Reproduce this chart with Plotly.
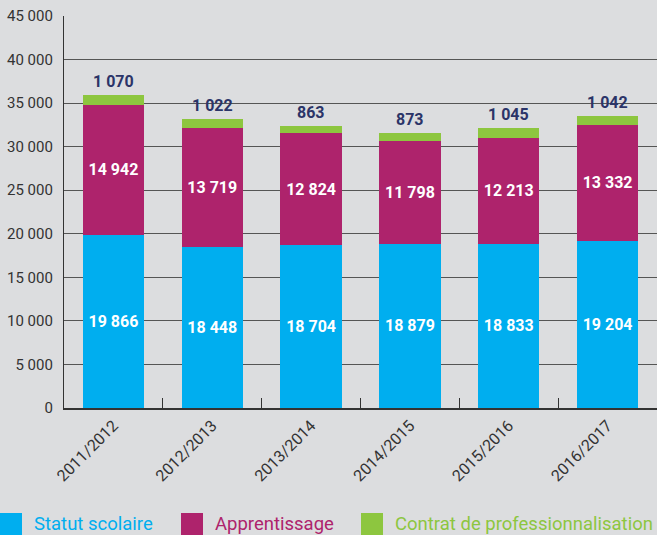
import plotly.graph_objects as go

years = ["2011/2012", "2012/2013", "2013/2014", "2014/2015", "2015/2016", "2016/2017"]
statut_scolaire = [19866, 18448, 18704, 18879, 18833, 19204]
apprentissage = [14942, 13719, 12824, 11798, 12213, 13332]
contrat_pro = [1070, 1022, 863, 873, 1045, 1042]
series_names = ["Statut scolaire", "Apprentissage", "Contrat de professionnalisation"]
colors = ["#00aeef", "#ae236c", "#8dc63f"]

W, H = 657, 535
L, R, T, B = 64, 0, 16, 127
pw, ph = W - L - R, H - T - B

fig = go.Figure()
for vals, name, col in zip([statut_scolaire, apprentissage], series_names[:2], colors[:2]):
    fig.add_trace(go.Bar(
        x=years, y=vals, name=name, marker=dict(color=col, line=dict(width=0)),
        texttemplate="%{y:,d}", textposition="inside", insidetextanchor="middle",
        textfont=dict(family="Roboto", size=16, color="white", weight="bold"),
        constraintext="none", showlegend=False,
    ))
fig.add_trace(go.Bar(
    x=years, y=contrat_pro, name=series_names[2], marker=dict(color=colors[2], line=dict(width=0)),
    showlegend=False,
))

totals = [a + b + c for a, b, c in zip(statut_scolaire, apprentissage, contrat_pro)]
annotations = []
for yr, tot, v in zip(years, totals, contrat_pro):
    annotations.append(dict(x=yr, y=tot, xref="x", yref="y", text=f"{v:,d}".replace(",", " "),
                            showarrow=False, yanchor="bottom", yshift=2,
                            font=dict(family="Roboto", size=16, color="#2b3468", weight="bold")))

# manual legend
legend_x = [0, 181, 361]
shapes = []
for lx, name, col in zip(legend_x, series_names, colors):
    shapes.append(dict(type="rect", xref="paper", yref="paper",
                       x0=(lx - L) / pw, x1=(lx + 22 - L) / pw,
                       y0=(H - B - 513) / ph, y1=(H - B - 536) / ph,
                       fillcolor=col, line=dict(width=0)))
    annotations.append(dict(xref="paper", yref="paper", x=(lx + 32 - L) / pw,
                            y=(H - B - 524) / ph, xanchor="left", yanchor="middle",
                            text=name, showarrow=False,
                            font=dict(family="Roboto", size=18.5, color=col)))

fig.update_layout(
    width=W, height=H, margin=dict(l=L, r=R, t=T, b=B),
    paper_bgcolor="#dcdddf", plot_bgcolor="#dcdddf",
    barmode="stack", bargap=0.38, separators=". ",
    font=dict(family="Roboto", color="#333333"),
    shapes=shapes, annotations=annotations, showlegend=False,
)
fig.update_yaxes(range=[0, 45000], dtick=5000, tickformat=",d",
                 showgrid=True, gridcolor="#555555", gridwidth=1.3,
                 showline=True, linecolor="#333333", linewidth=1.3,
                 ticks="", ticklabelstandoff=7,
                 tickfont=dict(family="Roboto", size=15, color="#333333"),
                 zeroline=False)
fig.update_xaxes(showline=True, linecolor="#333333", linewidth=2,
                 ticks="inside", tickson="boundaries", ticklen=10, tickcolor="#333333",
                 tickangle=-45, tickfont=dict(family="Roboto", size=16, color="#333333"))

fig.write_html("out.html", config={"displayModeBar": False},
               post_script="document.body.style.margin='0';document.body.style.overflow='hidden';")
